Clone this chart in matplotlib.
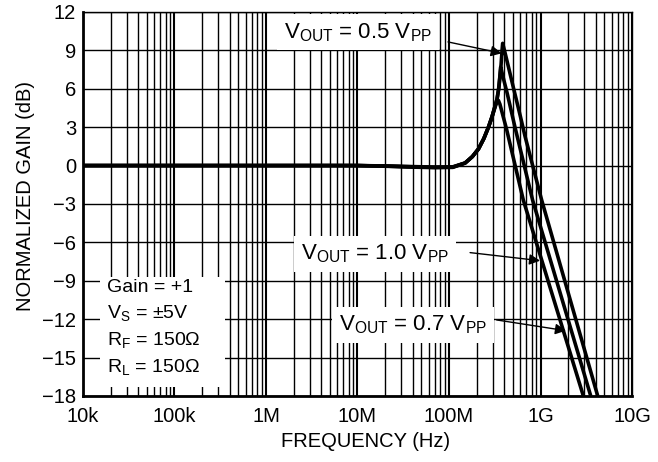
import matplotlib
matplotlib.use("Agg")
import matplotlib.pyplot as plt
from matplotlib.patches import Rectangle
from matplotlib.ticker import FixedLocator, NullFormatter

plt.rcParams['font.family'] = ['Liberation Sans', 'DejaVu Sans']
plt.rcParams['mathtext.fontset'] = 'custom'
plt.rcParams['mathtext.rm'] = 'Liberation Sans'
plt.rcParams['mathtext.it'] = 'Liberation Sans'

# frequency response at three output levels (Hz, dB)
freq_05 = [1e4, 1e6, 1e7, 2e7, 4e7, 7e7, 1.1e8, 1.5e8, 1.8e8, 2.1e8, 2.4e8, 2.7e8,
           2.95e8, 3.2e8, 3.35e8, 3.5e8, 3.7e8, 3.8e8, 3.86e8, 4.1e8, 4.5e8, 5.05e8,
           6.0e8, 6.77e8, 1.03e9, 4.22e9]
gain_05 = [0, 0, 0, -0.03, -0.08, -0.12, -0.1, 0.2, 0.7, 1.3, 2.1, 3.0,
           3.8, 4.7, 5.2, 6.0, 7.8, 9.0, 9.55, 8.8, 7.6, 6.1,
           3.9, 2.3, -2.7, -18]

freq_07 = [1e4, 1e6, 1e7, 2e7, 4e7, 7e7, 1.1e8, 1.5e8, 1.8e8, 2.1e8, 2.4e8, 2.7e8,
           2.95e8, 3.2e8, 3.35e8, 3.5e8, 3.6e8, 3.67e8, 4.0e8, 4.34e8, 5.26e8,
           8.2e8, 3.54e9]
gain_07 = [0, 0, 0, -0.04, -0.1, -0.14, -0.12, 0.2, 0.7, 1.3, 2.1, 3.0,
           3.8, 4.7, 5.2, 6.1, 7.0, 7.7, 6.6, 5.6, 3.0,
           -2.7, -18]

freq_10 = [1e4, 1e6, 1e7, 2e7, 4e7, 7e7, 1.1e8, 1.5e8, 1.8e8, 2.1e8, 2.4e8, 2.7e8,
           2.95e8, 3.2e8, 3.35e8, 3.46e8, 3.6e8, 4.27e8, 6.49e8, 2.94e9]
gain_10 = [0, 0, 0, -0.05, -0.12, -0.16, -0.14, 0.2, 0.7, 1.3, 2.1, 3.0,
           3.8, 4.6, 5.0, 5.1, 4.8, 2.8, -2.7, -18]

x_ticks = [1e4, 1e5, 1e6, 1e7, 1e8, 1e9, 1e10]
x_labels = ['10k', '100k', '1M', '10M', '100M', '1G', '10G']
y_ticks = list(range(-18, 13, 3))

fig = plt.figure(figsize=(6.58, 4.62), dpi=100)
ax = fig.add_axes([0.1261, 0.1429, 0.8344, 0.8312])

ax.set_xscale('log')
ax.set_xlim(1e4, 1e10)
ax.set_ylim(-18, 12)

ax.xaxis.set_major_locator(FixedLocator(x_ticks))
ax.set_xticklabels(x_labels)
minors = [m * d for d in x_ticks[:-1] for m in range(2, 10)]
ax.xaxis.set_minor_locator(FixedLocator(minors))
ax.xaxis.set_minor_formatter(NullFormatter())
ax.set_yticks(y_ticks)
ax.set_yticklabels([f'{v}'.replace('-', '\u2212') for v in y_ticks])

ax.set_axisbelow(True)
ax.grid(which='major', axis='x', color='black', lw=1.5)
ax.grid(which='minor', axis='x', color='black', lw=1.0)
ax.grid(which='major', axis='y', color='black', lw=1.0)

ax.tick_params(which='both', length=0, labelsize=14.5)
ax.tick_params(axis='x', pad=8)
ax.tick_params(axis='y', pad=5)

for side in ['left', 'bottom']:
    ax.spines[side].set_linewidth(2.0)
for side in ['top', 'right']:
    ax.spines[side].set_linewidth(1.0)

ax.set_xlabel('FREQUENCY (Hz)', fontsize=14.5, labelpad=4, x=0.515)
ax.set_ylabel('NORMALIZED GAIN (dB)', fontsize=14.5, labelpad=5, y=0.52)

for f, g in [(freq_10, gain_10), (freq_07, gain_07), (freq_05, gain_05)]:
    ax.plot(f, g, color='black', lw=2.6, zorder=3, solid_capstyle='butt')

# test conditions
ax.add_patch(Rectangle((0.031, 0.023), 0.228, 0.287, transform=ax.transAxes,
                       facecolor='white', edgecolor='none', zorder=2))
cond = ['Gain = +1', r'V$_{\mathrm{S}}$ = ±5V', r'R$_{\mathrm{F}}$ = 150Ω', r'R$_{\mathrm{L}}$ = 150Ω']
for i, line in enumerate(cond):
    ax.text(0.043, 0.272 - i * 0.0695, line, transform=ax.transAxes,
            fontsize=14, ha='left', va='baseline', zorder=4)

box = dict(boxstyle='square,pad=0.3', facecolor='white', edgecolor='none')
labels = [
    (r'V$_{\mathrm{OUT}}$ = 0.5 V$_{\mathrm{PP}}$', (1.01e7, 10.4), (9.75e7, 9.66), (3.77e8, 8.77)),
    (r'V$_{\mathrm{OUT}}$ = 1.0 V$_{\mathrm{PP}}$', (1.55e7, -6.9), (1.7e8, -6.8), (9.9e8, -7.43)),
    (r'V$_{\mathrm{OUT}}$ = 0.7 V$_{\mathrm{PP}}$', (4.05e7, -12.45), (3.32e8, -12.06), (1.9e9, -12.9)),
]
for txt, pos, tail, tip in labels:
    ax.text(pos[0], pos[1], txt, fontsize=16, ha='center', va='center',
            bbox=box, zorder=4)
    ax.annotate('', xy=tip, xytext=tail,
                arrowprops=dict(arrowstyle='-|>', color='black', lw=1.0,
                                mutation_scale=16, shrinkA=0, shrinkB=0),
                zorder=5)

fig.savefig('out.png', dpi=100)
